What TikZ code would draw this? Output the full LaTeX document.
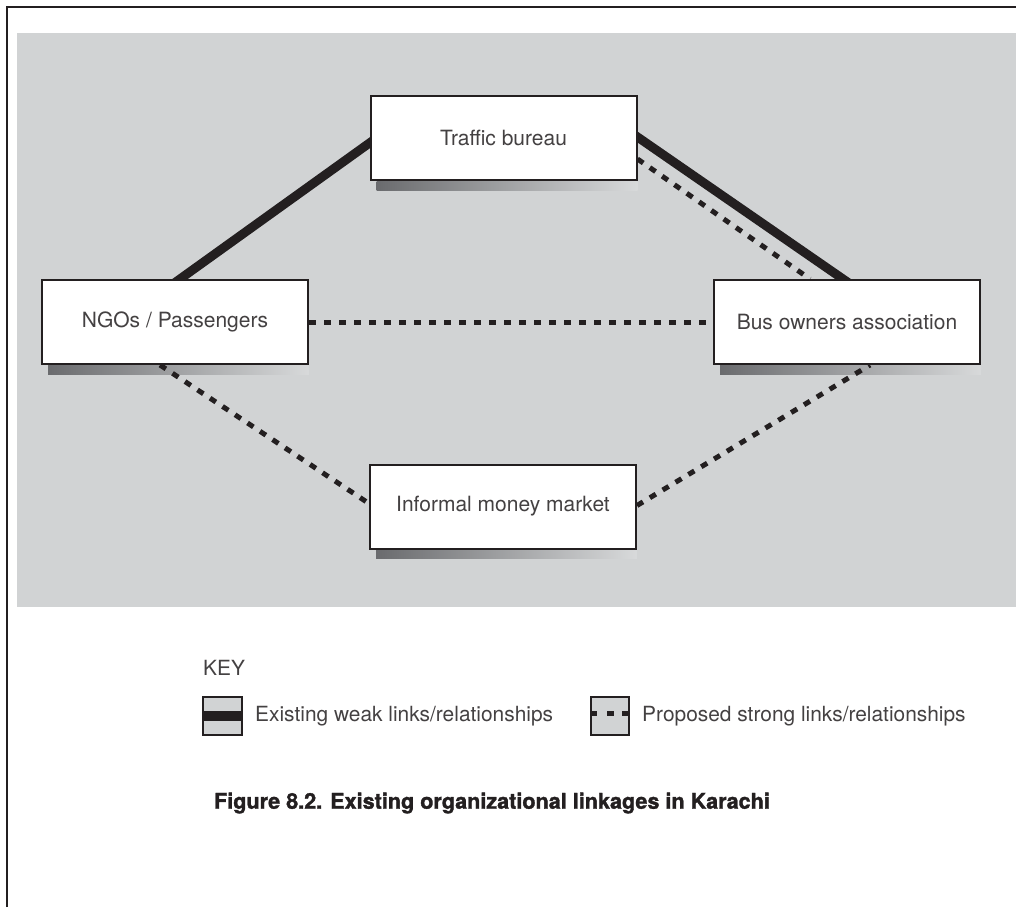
\documentclass[tikz,border=0pt]{standalone}
\usepackage{fontspec}
\setmainfont{TeX Gyre Heros}
\newfontfamily\capfont{TeX Gyre Heros}[BoldFeatures={FakeBold=1.5}]
\usetikzlibrary{calc}
\definecolor{bggray}{HTML}{D1D3D4}
\definecolor{shdark}{HTML}{6A6B6E}
\definecolor{ink}{HTML}{231F20}
\pgfdeclarelayer{bg}
\pgfsetlayers{bg,main}
\tikzset{
  orgbox/.style={draw=ink, line width=2pt, fill=white, minimum width=266pt,
    minimum height=84pt, inner sep=0pt, font=\fontsize{21}{25}\selectfont, text=ink!85},
  weaklink/.style={draw=ink, line width=9pt, shorten <=-8pt, shorten >=-8pt},
  stronglink/.style={draw=ink, line width=5pt, dash pattern=on 7pt off 8pt},
  keytext/.style={anchor=west, inner sep=0pt, font=\fontsize{20.9}{25}\selectfont, text=ink!85},
  boxshadow/.style={left color=shdark, right color=bggray!85!white},
}
\begin{document}
\begin{tikzpicture}[x=1pt,y=-1pt]
\useasboundingbox (0,0) rectangle (1016,907);
\begin{pgfonlayer}{bg}
  % frame and grey panel
  \draw[ink, line width=2.5pt] (7,907) -- (7,7) -- (1016,7);
  \fill[bggray] (17,33) rectangle (1016,607);
\end{pgfonlayer}

% boxes
\node[orgbox] (tb)  at (503.5,138) {Traffic bureau};
\node[orgbox] (ngo) at (175,322)   {NGOs / Passengers};
\node[orgbox] (bus) at (847,322)   {Bus owners association};
\node[orgbox] (imm) at (503,506.5) {Informal money market};

\begin{pgfonlayer}{bg}
  % shadows
  \foreach \b in {tb,ngo,bus,imm}{
    \shade[boxshadow] ($(\b.south west)+(7,0)$) rectangle ($(\b.south east)+(0,9)$);
  }
  % links
  \draw[weaklink] ($(ngo.north)+(5,0)$) -- ($(tb.west)+(0,5)$);
  \draw[weaklink] ($(tb.east)+(0,-1)$) -- ($(bus.north)+(-4,0)$);
  \draw[stronglink] ($(tb.east)+(0,21)$) -- ($(bus.north)+(-37,0)$);
  \draw[stronglink] (ngo.east) -- (bus.west);
  \draw[stronglink] ($(ngo.south)+(-15,0)$) -- ($(imm.west)+(0,-3)$);
  \draw[stronglink] ($(imm.east)+(0,-1)$) -- ($(bus.south)+(23,0)$);
\end{pgfonlayer}

% key
\node[keytext] (key) at (203,668) {KEY};
\filldraw[fill=bggray, draw=ink, line width=2pt] (203,697) rectangle (242,735);
\fill[ink] (203,711) rectangle (242,721);
\node[keytext] (k1) at (255,716) {Existing weak links/relationships};
\filldraw[fill=bggray, draw=ink, line width=2pt] (591,697) rectangle (629,735);
\fill[ink] (591,710.5) rectangle (597,715.5);
\fill[ink] (607,710.5) rectangle (614,715.5);
\fill[ink] (622,710.5) rectangle (629,715.5);
\node[keytext] (k2) at (642,716) {Proposed strong links/relationships};

% caption
\node[font=\capfont\fontsize{21.6}{26}\selectfont\bfseries, text=ink] (cap) at (492,803)
  {Figure 8.2. Existing organizational linkages in Karachi};
\end{tikzpicture}
\end{document}
